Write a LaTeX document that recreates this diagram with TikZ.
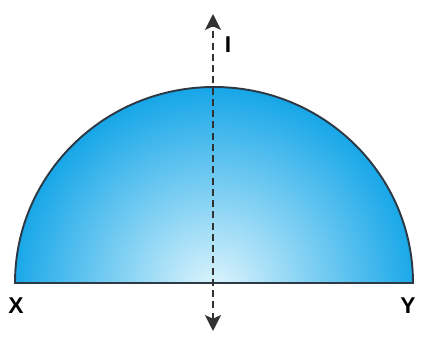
\documentclass[tikz,border=0pt]{standalone}
\usepackage{fontspec}
\setmainfont{Liberation Sans}
\usetikzlibrary{arrows.meta, positioning}
\definecolor{azulcito}{RGB}{22,166,232}
\definecolor{clarito}{RGB}{225,246,253}
\definecolor{bordecito}{RGB}{45,58,70}
\definecolor{ejecito}{RGB}{50,50,50}
\tikzset{>=Stealth,
  axisline/.style={ejecito, line width=1.6pt, dash pattern=on 4pt off 2.4pt},
  letra/.style={font=\fontsize{13}{15}\selectfont\bfseries, text=black, inner sep=0pt}}

\begin{document}
\begin{tikzpicture}[x=0.02cm, y=-0.02cm]
        \useasboundingbox (0,0) rectangle (436,337);

        % Half disc, shaded from the middle of its base
        \begin{scope}
          \clip (15,283) arc[start angle=180, end angle=360, x radius=199, y radius=196] -- cycle;
          \shade[inner color=clarito, outer color=azulcito] (214,292) circle (205);
        \end{scope}
        \draw[bordecito, line width=1.1pt] (15,283) arc[start angle=180, end angle=360, x radius=199, y radius=196] -- cycle;

        % Axis through the centre
        \coordinate (top) at (213,14);
        \coordinate (bot) at (213,331);
        \draw[axisline, <->, >={Stealth[length=9pt, width=9pt, inset=2pt]}] (bot) -- (top);

        % Labels
        \node[letra] (I) at (228,45) {I};
        \node[letra] (X) at (16,306) {X};
        \node[letra] (Y) at (408,306) {Y};
      \end{tikzpicture}
\end{document}
